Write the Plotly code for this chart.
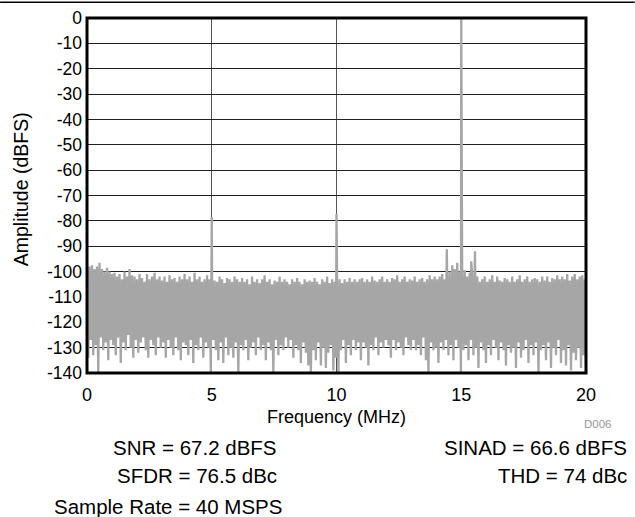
import numpy as np
import plotly.graph_objects as go

# Upper excursions of the noise floor (dBFS), 10 per MHz from 0 to 20 MHz
noise_hi = [
    -97, -98, -97.5, -99, -98, -96.5, -99, -100, -98.5, -100,
    -101, -100.5, -102, -101, -103, -100, -102, -99, -101.5, -102,
    -103, -101, -102.5, -104, -101, -103, -102, -100.5, -103, -102,
    -103.5, -102, -104, -101.5, -103, -102.5, -104, -102, -103, -101,
    -103, -102, -104, -100.5, -103, -102, -104, -103, -101.5, -103,
    -102, -103.5, -104, -102, -103, -104.5, -102.5, -103, -104, -102,
    -103, -104, -102.5, -104, -103, -105, -102, -104, -103, -104.5,
    -103, -101.5, -104, -103, -105, -103.5, -104, -102, -104, -103,
    -104, -105, -103, -104, -102.5, -104, -105, -103, -104, -103.5,
    -104, -102.5, -104, -105, -103, -104, -102, -104.5, -103, -104,
    -104, -103, -104.5, -103, -104, -102.5, -104, -103, -104, -103,
    -102.5, -104, -103, -104, -102, -103.5, -104, -103, -102, -104,
    -103, -104, -102.5, -103, -101.5, -104, -103, -102, -104, -103,
    -103.5, -102, -104, -103, -102.5, -104, -103, -101.5, -103, -102,
    -103, -102, -101, -103, -102, -100, -101.5, -99, -102, -100,
    -101, -99.5, -102, -100.5, -101, -103, -102, -104, -103, -102,
    -104, -103, -101.5, -104, -102, -103.5, -104, -102.5, -103, -104,
    -102, -104, -103, -101.5, -104, -103, -102, -104, -103, -102.5,
    -103, -104, -102, -103.5, -102, -104, -102.5, -103, -101.5, -103,
    -102, -103, -101, -103.5, -102, -101, -103, -102, -101.5, -103,
]

# Lower excursions of the noise floor (dBFS), 10 per MHz from 0 to 20 MHz
noise_lo = [
    -134, -127, -133, -129, -140, -126, -131, -128, -135, -127,
    -129, -133, -126, -136, -128, -131, -125, -130, -134, -127,
    -132, -128, -126, -131, -134, -127, -129, -133, -126, -130,
    -128, -134, -127, -130, -133, -126, -131, -135, -128, -129,
    -133, -127, -136, -129, -131, -126, -134, -128, -130, -140,
    -127, -131, -135, -128, -136, -126, -133, -130, -134, -128,
    -140, -129, -131, -127, -135, -130, -128, -133, -126, -131,
    -129, -135, -128, -131, -140, -127, -133, -129, -131, -126,
    -130, -127, -134, -129, -131, -136, -128, -132, -137, -140,
    -131, -135, -128, -137, -130, -138, -132, -129, -139, -134,
    -140, -131, -127, -136, -129, -133, -127, -131, -128, -135,
    -128, -130, -137, -129, -131, -126, -133, -128, -130, -127,
    -129, -134, -127, -131, -128, -130, -133, -126, -129, -131,
    -127, -131, -129, -133, -126, -135, -140, -128, -131, -130,
    -136, -128, -131, -127, -133, -129, -135, -127, -130, -140,
    -131, -129, -135, -127, -133, -130, -138, -128, -131, -136,
    -129, -133, -127, -130, -135, -128, -131, -137, -129, -132,
    -130, -138, -128, -134, -131, -127, -136, -129, -133, -128,
    -140, -131, -129, -135, -128, -138, -130, -133, -127, -136,
    -131, -137, -129, -139, -132, -135, -130, -138, -133, -137,
]

# Fundamental, harmonics and spurs
spur_freq = [5.0, 10.0, 14.42, 14.64, 14.84, 15.0, 15.4, 15.55]
spur_amp = [-78.5, -77.2, -91.2, -97.5, -96.5, -0.5, -96.0, -92.0]

x_ticks = [0, 5, 10, 15, 20]
y_ticks = list(range(0, -150, -10))

metrics_left = ["SNR = 67.2 dBFS", "SFDR = 76.5 dBc", "Sample Rate = 40 MSPS"]
metrics_right = ["SINAD = 66.6 dBFS", "THD = 74 dBc"]

# Build the spectrum: FFT bins over 0..20 MHz, noise alternating hi/lo
n = len(noise_hi) + len(noise_lo)
f_noise = np.linspace(0, 20, n)
a_noise = np.empty(n)
a_noise[0::2] = noise_hi
a_noise[1::2] = noise_lo
f_all = np.concatenate([f_noise, spur_freq])
a_all = np.concatenate([a_noise, spur_amp])
order = np.argsort(f_all, kind="stable")
f_all = f_all[order]
a_all = a_all[order]

FONT = "Arial, 'Liberation Sans', sans-serif"

fig = go.Figure()
fig.add_trace(go.Scatter(
    x=f_all, y=a_all, mode="lines",
    line=dict(color="#A6A6A6", width=2.3),
    hoverinfo="skip", showlegend=False,
))

fig.update_layout(
    width=635, height=517,
    margin=dict(l=87, r=49, t=18, b=144, autoexpand=False),
    paper_bgcolor="white", plot_bgcolor="white",
    font=dict(family=FONT, color="black", size=17),
    showlegend=False,
)
fig.update_xaxes(
    range=[0, 20], tickvals=x_ticks, ticktext=[str(v) for v in x_ticks],
    showgrid=True, gridcolor="#555555", gridwidth=1,
    zeroline=False, showline=False, ticks="",
    tickfont=dict(size=18, family=FONT), ticklabelstandoff=9,
)
fig.update_yaxes(
    range=[-140, 0], tickvals=y_ticks, ticktext=[str(v) for v in y_ticks],
    showgrid=True, gridcolor="#222222", gridwidth=1,
    zeroline=False, showline=False, ticks="",
    tickfont=dict(size=17.5, family=FONT), ticklabelstandoff=4,
)

# Plot frame and top rule
fig.add_shape(type="rect", xref="paper", yref="paper", x0=0, y0=0, x1=1, y1=1,
              line=dict(color="black", width=3), layer="above")
fig.add_shape(type="line", xref="paper", yref="paper",
              x0=-87/499.3, x1=(635-87)/499.3, y0=1.0446, y1=1.0446,
              line=dict(color="black", width=1.5))

ann = []
ann.append(dict(text="Frequency (MHz)", x=0.5, y=-0.1235, xanchor="center", yanchor="middle",
                font=dict(size=18)))
ann.append(dict(text="Amplitude (dBFS)", x=-0.1316, y=0.5186, xanchor="center", yanchor="middle",
                textangle=-90, font=dict(size=19.5)))
ann.append(dict(text="D006", x=1.056, y=-0.1445, xanchor="right", yanchor="middle",
                font=dict(size=11.5, color="#999999")))
left_y = [-0.2098, -0.2892, -0.376]
left_x = [0.385, 0.385, 0.395]
for t, xx, yy in zip(metrics_left, left_x, left_y):
    ann.append(dict(text=t, x=xx, y=yy, xanchor="right", yanchor="middle", font=dict(size=20.5)))
for t, yy in zip(metrics_right, left_y[:2]):
    ann.append(dict(text=t, x=1.0867, y=yy, xanchor="right", yanchor="middle", font=dict(size=20.5)))
for a in ann:
    a.update(xref="paper", yref="paper", showarrow=False)
fig.update_layout(annotations=ann)

fig.write_html("out.html", config={"displayModeBar": False},
               post_script="document.body.style.margin='0';document.body.style.padding='0';")
